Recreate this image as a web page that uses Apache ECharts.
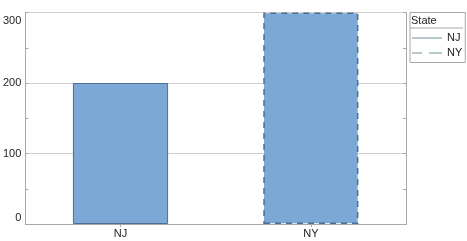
<!DOCTYPE html>
<html><head><meta charset="utf-8">
<script src="https://cdn.jsdelivr.net/npm/echarts@6/dist/echarts.min.js"></script>
<style>html,body{margin:0;padding:0;background:#fff}#c{width:467px;height:241px}</style>
</head><body><div id="c"></div>
<script>
const categories = ['NJ', 'NY'];
const njValues = [200, '-'];
const nyValues = ['-', 300];
const yTicks = [0, 100, 200, 300];
const legendTitle = 'State';

const chart = echarts.init(document.getElementById('c'), null, {renderer: 'canvas'});
const fill = '#7ba8d5';
const edge = '#4c6e92';
const axisCol = '#a8a8a8';
const font = 'Liberation Sans, Arial, sans-serif';
const yAxisBase = {
  type: 'value', min: yTicks[0], max: yTicks[yTicks.length - 1], interval: 100,
  axisLine: {show: true, lineStyle: {color: axisCol, width: 1}},
  axisTick: {show: true, inside: true, length: 3, lineStyle: {color: axisCol}},
  minorTick: {show: true, splitNumber: 2, length: 3, lineStyle: {color: axisCol}},
  splitLine: {show: false}
};
chart.setOption({
  animation: false,
  textStyle: {fontFamily: font},
  grid: {left: 23.5, right: 61, top: 12.5, bottom: 17, containLabel: false},
  title: {text: legendTitle, left: 411, top: 15, padding: 0,
    textStyle: {fontSize: 11, fontWeight: 'normal', color: '#222', fontFamily: font}},
  legend: {
    orient: 'vertical', left: 410, top: 12.5,
    padding: [18, 3, 2, 2], itemGap: 0, itemWidth: 30, itemHeight: 2,
    borderColor: axisCol, borderWidth: 1,
    textStyle: {fontSize: 11, color: '#222', lineHeight: 15, fontFamily: font},
    data: [
      {name: 'NJ', icon: 'path://M0,0H30V2H0Z', itemStyle: {color: '#b4cacb', borderWidth: 0}},
      {name: 'NY', icon: 'path://M0,0H10V2H0Z M17,0H30V2H17Z', itemStyle: {color: '#b4cacb', borderWidth: 0}}
    ]
  },
  graphic: [{type: 'line', shape: {x1: 410, y1: 28, x2: 463, y2: 28}, style: {stroke: axisCol, lineWidth: 1}, z: 10}],
  xAxis: [{
    type: 'category', data: categories, position: 'bottom',
    axisLine: {show: true, lineStyle: {color: axisCol}},
    axisTick: {show: true, inside: true, alignWithLabel: true, length: 3, lineStyle: {color: axisCol}},
    axisLabel: {color: '#222', fontSize: 11, margin: 4, fontFamily: font}
  }, {
    type: 'category', data: categories, position: 'top',
    axisLine: {show: true, lineStyle: {color: axisCol}},
    axisTick: {show: true, inside: true, alignWithLabel: true, length: 3, lineStyle: {color: axisCol}},
    axisLabel: {show: false}
  }],
  yAxis: [Object.assign({}, yAxisBase, {
    position: 'left',
    splitLine: {show: true, lineStyle: {color: '#cfcfcf', width: 1}},
    axisLabel: {
      color: '#222', fontSize: 11, margin: 4, fontFamily: font,
      formatter: function (v) {
        if (v === yTicks[yTicks.length - 1]) return '{t|' + v + '}';
        if (v === yTicks[0]) return '{b|' + v + '}';
        return String(v);
      },
      rich: {t: {padding: [17, 0, 0, 0], fontSize: 11}, b: {padding: [0, 0, 12, 0], fontSize: 11}}
    }
  }), Object.assign({}, yAxisBase, {position: 'right', axisLabel: {show: false}})],
  series: [
    {name: 'NJ', type: 'bar', stack: 's', data: njValues, barWidth: '50%',
      itemStyle: {color: fill, borderColor: edge, borderWidth: 1}},
    {name: 'NY', type: 'bar', stack: 's', data: nyValues, barWidth: '50%',
      itemStyle: {color: fill, borderColor: edge, borderWidth: 1.5, borderType: [6, 5]}}
  ]
});
</script></body></html>
